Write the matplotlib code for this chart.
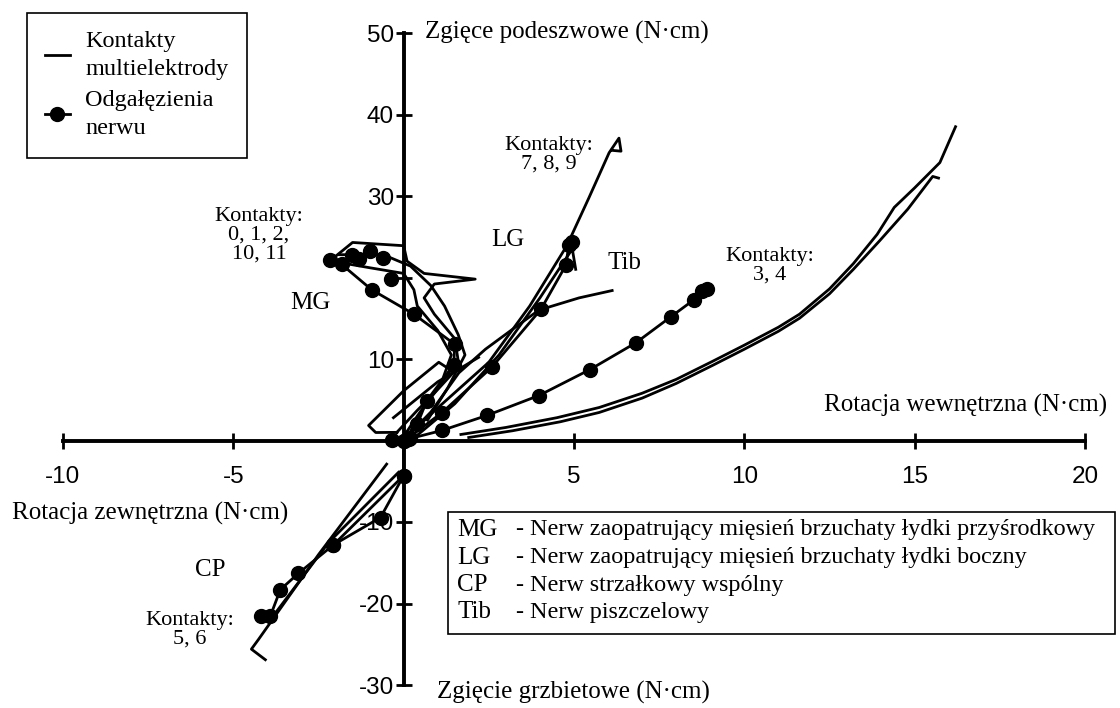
import matplotlib.pyplot as plt
from matplotlib.lines import Line2D
from matplotlib.patches import Rectangle

# --- data (N*cm) ---
# Kontakty 3, 4 (multielectrode contacts, two runs)
k34_a_x = [1.68, 3.0, 4.5, 5.74, 7.0, 8.0, 9.06, 10.0, 11.0, 11.62, 12.5, 13.2, 13.9,
           14.4, 15.0, 15.74, 16.2]
k34_a_y = [0.74, 1.6, 2.8, 4.05, 5.8, 7.5, 9.7, 11.7, 13.9, 15.5, 18.6, 21.7, 25.3,
           28.6, 31.0, 34.1, 38.5]
k34_b_x = [1.91, 3.2, 4.6, 5.74, 7.0, 8.0, 9.06, 10.0, 11.0, 11.62, 12.5, 13.2, 13.97,
           14.8, 15.53, 15.7]
k34_b_y = [0.37, 1.2, 2.3, 3.44, 5.2, 7.0, 9.2, 11.2, 13.4, 15.0, 18.0, 21.0, 24.5,
           28.4, 32.4, 32.2]
# nerve branch toward contacts 3, 4
n34_x = [0.2, 1.12, 2.44, 3.97, 5.47, 6.82, 7.85, 8.53, 8.76, 8.9]
n34_y = [0.25, 1.23, 3.07, 5.52, 8.71, 12.0, 15.2, 17.3, 18.4, 18.6]

# Kontakty 7, 8, 9 (LG)
lg_a_x = [0.1, 1.0, 2.5, 3.7, 4.79, 5.44, 6.03, 6.32, 6.38, 6.12]
lg_a_y = [0.5, 4.0, 9.6, 16.5, 23.9, 29.8, 35.3, 37.1, 35.5, 35.6]
lg_b_x = [0.3, 1.5, 2.8, 4.0, 4.95, 5.05]
lg_b_y = [0.3, 4.5, 10.5, 17.5, 23.5, 21.0]
lg_c_x = [-0.3, 1.0, 2.2]
lg_c_y = [2.8, 7.2, 10.2]
lg_n_x = [0.1, 1.12, 2.59, 4.03, 4.76, 4.85, 4.95]
lg_n_y = [0.2, 3.4, 9.0, 16.1, 21.5, 24.0, 24.4]

# Tib
tib_x = [0.1, 0.8, 1.62, 2.4, 3.18, 3.97, 5.15, 6.12]
tib_y = [0.5, 3.5, 8.3, 11.2, 13.6, 16.0, 17.5, 18.4]

# Kontakty 0, 1, 2, 10, 11 (MG)
mg_a_x = [-2.0, -1.5, 0.0, 0.1, 0.6, 2.1, 0.9, 0.6, 0.9, 1.5, 1.6, 1.0, 0.4, 0.0]
mg_a_y = [22.6, 24.3, 23.9, 22.0, 20.5, 19.8, 19.2, 17.5, 15.5, 12.5, 9.8, 6.5, 3.0, 0.5]
mg_b_x = [-2.1, -1.0, 0.0, 0.3, 0.4, 1.0, 1.4, 1.1, 0.5, 0.1]
mg_b_y = [22.0, 21.2, 20.5, 18.5, 16.5, 13.5, 10.5, 7.0, 3.5, 0.3]
mg_c_x = [-1.9, -0.6, 0.2, 0.8, 1.2, 1.6, 1.8, 1.3, 0.7]
mg_c_y = [22.8, 22.8, 21.4, 19.0, 16.5, 13.0, 10.5, 6.5, 2.5]
mg_loop_x = [-0.2, -0.82, -1.03, 0.0, 1.03, 1.47, 0.9, 0.4, -0.2]
mg_loop_y = [1.0, 0.98, 1.84, 6.1, 9.6, 8.4, 5.8, 3.7, 1.0]
mg_n_x = [0.0, 0.4, 0.68, 1.47, 1.5, 0.3, -0.94, -1.82, -2.15]
mg_n_y = [0.0, 2.0, 4.9, 9.3, 11.8, 15.5, 18.5, 21.6, 22.2]
mg_blob_x = [-1.53, -1.0, -1.3, -0.6, -0.38, -0.35, 0.15]
mg_blob_y = [22.8, 23.2, 22.3, 22.4, 19.8, 0.1, 0.2]

# Kontakty 5, 6 (CP)
cp_a_x = [-0.5, -2.5, -4.26, -4.47, -4.06]
cp_a_y = [-2.9, -14.0, -24.4, -25.6, -26.9]
cp_b_x = [-0.15, -2.2, -3.97]
cp_b_y = [-3.9, -12.5, -22.3]
cp_n_x = [0.0, 0.0, -0.68, -2.06, -3.09, -3.62, -3.91, -4.18]
cp_n_y = [0.0, -4.3, -9.45, -12.8, -16.3, -18.3, -21.5, -21.5]
cp_n2_x = [0.0, -2.06]
cp_n2_y = [-4.3, -12.8]

xticks = [-10, -5, 0, 5, 10, 15, 20]
xticklabels = ['-10', '-5', '', '5', '10', '15', '20']
yticks = [-30, -20, -10, 0, 10, 20, 30, 40, 50]
yticklabels = ['-30', '-20', '-10', '', '10', '', '30', '40', '50']

W, H = 1120, 708
serif = 'Liberation Serif'
sans = 'Liberation Sans'

fig = plt.figure(figsize=(W / 100, H / 100), dpi=100)
ax = fig.add_axes([63 / W, 23 / H, 1022 / W, 652 / H])
ax.set_xlim(-10, 20)
ax.set_ylim(-30, 50)

for s in ['top', 'right']:
    ax.spines[s].set_visible(False)
for s in ['left', 'bottom']:
    ax.spines[s].set_position('zero')
    ax.spines[s].set_linewidth(2.8)

ax.set_xticks(xticks)
ax.set_xticklabels(xticklabels)
ax.set_yticks(yticks)
ax.set_yticklabels(yticklabels)
ax.tick_params(axis='both', direction='inout', length=12, width=2,
               labelsize=17.5, labelfontfamily=sans)
ax.tick_params(axis='x', pad=12)
ax.tick_params(axis='y', pad=1)

lw = 2.0
ms = 10
plain = [(k34_a_x, k34_a_y), (k34_b_x, k34_b_y), (lg_a_x, lg_a_y), (lg_b_x, lg_b_y),
         (lg_c_x, lg_c_y), (tib_x, tib_y), (mg_a_x, mg_a_y), (mg_b_x, mg_b_y),
         (mg_c_x, mg_c_y), (mg_loop_x, mg_loop_y), (cp_a_x, cp_a_y), (cp_b_x, cp_b_y)]
for xs, ys in plain:
    ax.plot(xs, ys, color='black', lw=lw, clip_on=False)

nerves = [(n34_x, n34_y), (lg_n_x, lg_n_y), (mg_n_x, mg_n_y), (cp_n_x, cp_n_y),
          (cp_n2_x, cp_n2_y)]
for xs, ys in nerves:
    ax.plot(xs, ys, color='black', lw=lw, marker='o', ms=ms, clip_on=False)
ax.plot(mg_blob_x, mg_blob_y, 'o', color='black', ms=ms)


def ftxt(x, y, s, size=18, ha='left', va='center', **kw):
    fig.text(x / W, 1 - y / H, s, fontsize=size, ha=ha, va=va, family=serif, **kw)


ftxt(425, 32, 'Zgięce podeszwowe (N·cm)')
ftxt(437, 692, 'Zgięcie grzbietowe (N·cm)')
ftxt(1107, 405, 'Rotacja wewnętrzna (N·cm)', ha='right')
ftxt(12, 513, 'Rotacja zewnętrzna (N·cm)')

ftxt(310, 303, 'MG', ha='center')
ftxt(508, 240, 'LG', ha='center')
ftxt(625, 263, 'Tib', ha='center')
ftxt(210, 570, 'CP', ha='center')
ftxt(259, 235, 'Kontakty:\n0, 1, 2,\n10, 11', size=16, ha='center', linespacing=1.0)
ftxt(549, 155, 'Kontakty:\n7, 8, 9', size=16, ha='center', linespacing=1.0)
ftxt(770, 266, 'Kontakty:\n3, 4', size=16, ha='center', linespacing=1.0)
ftxt(190, 630, 'Kontakty:\n5, 6', size=16, ha='center', linespacing=1.0)

# legend
handles = [Line2D([], [], color='black', lw=lw),
           Line2D([], [], color='black', lw=lw, marker='o', ms=ms)]
leg = ax.legend(handles, ['Kontakty\nmultielektrody', 'Odgałęzienia\nnerwu'],
                loc='upper left', bbox_to_anchor=(27 / W, 1 - 13 / H),
                bbox_transform=fig.transFigure, fancybox=False, framealpha=1,
                edgecolor='black', handlelength=1.0, handletextpad=0.65,
                borderpad=0.75, labelspacing=0.4, borderaxespad=0,
                prop={'family': serif, 'size': 17.5})
leg.get_frame().set_linewidth(1.2)
for t in leg.get_texts():
    t.set_linespacing(1.45)

# abbreviations box
fig.patches.append(Rectangle((448 / W, 1 - 634 / H), (1115 - 448) / W, (634 - 512) / H,
                             transform=fig.transFigure, fill=True, facecolor='white',
                             edgecolor='black', lw=1.2, zorder=5))
abbr = ['MG', 'LG', 'CP', 'Tib']
desc = ['- Nerw zaopatrujący mięsień brzuchaty łydki przyśrodkowy',
        '- Nerw zaopatrujący mięsień brzuchaty łydki boczny',
        '- Nerw strzałkowy wspólny',
        '- Nerw piszczelowy']
for i, (a, d) in enumerate(zip(abbr, desc)):
    yy = 530 + i * 27.5
    ftxt(457, yy, a, size=18, zorder=6)
    ftxt(516, yy, d, size=17.4, zorder=6)

fig.savefig('out.png', dpi=100)
